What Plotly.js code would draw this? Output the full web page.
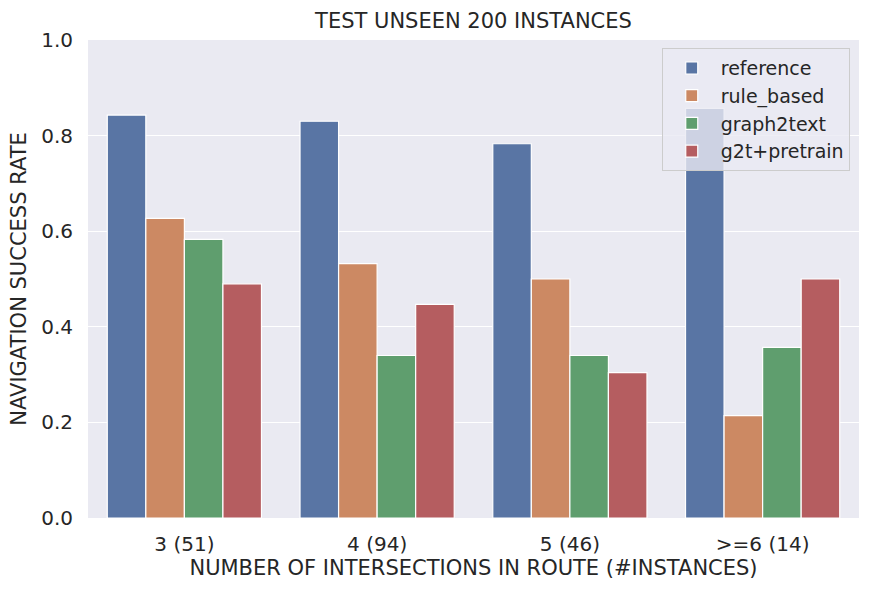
<!DOCTYPE html>
<html>
<head>
<meta charset="utf-8">
<script src="https://cdn.plot.ly/plotly-3.0.1.min.js"></script>
<style>
html,body{margin:0;padding:0;background:#fff}
#chart{width:873px;height:594px}
</style>
</head>
<body>
<div id="chart"></div>
<script>
let categories = ["3 (51)", "4 (94)", "5 (46)", ">=6 (14)"]

let reference = [0.843, 0.830, 0.783, 0.857]
let rule_based = [0.627, 0.532, 0.500, 0.214]
let graph2text = [0.583, 0.340, 0.340, 0.357]
let g2t_pretrain = [0.490, 0.447, 0.304, 0.500]

let seriesNames = ["reference", "rule_based", "graph2text", "g2t+pretrain"]
let seriesValues = [reference, rule_based, graph2text, g2t_pretrain]
let colors = ["#5975a4", "#cc8963", "#5f9e6e", "#b55d60"]

let font = "DejaVu Sans, sans-serif"

let traces = seriesNames.map((name, i) => ({
  type: "bar",
  name: name,
  x: categories,
  y: seriesValues[i],
  marker: {color: colors[i], line: {color: "#ffffff", width: 1.2}}
}))

let layout = {
  width: 873,
  height: 594,
  margin: {l: 87.5, r: 13.7, t: 40, b: 75.7},
  paper_bgcolor: "#ffffff",
  plot_bgcolor: "#eaeaf2",
  barmode: "group",
  bargap: 0.2,
  bargroupgap: 0,
  font: {family: font, color: "#262626", size: 20},
  title: {
    text: "TEST UNSEEN 200 INSTANCES",
    font: {family: font, size: 21, color: "#262626"},
    x: 0.5, xref: "paper", xanchor: "center",
    y: 0.965, yanchor: "middle"
  },
  xaxis: {
    title: {text: "NUMBER OF INTERSECTIONS IN ROUTE (#INSTANCES)", font: {size: 21}, standoff: 4},
    showgrid: false,
    zeroline: false,
    showline: false,
    ticks: "outside",
    ticklen: 8,
    tickcolor: "rgba(0,0,0,0)",
    tickfont: {size: 20}
  },
  yaxis: {
    title: {text: "NAVIGATION SUCCESS RATE", font: {size: 21}, standoff: 8},
    range: [0, 1],
    dtick: 0.2,
    tickformat: ".1f",
    showgrid: true,
    gridcolor: "#ffffff",
    gridwidth: 1.3,
    zeroline: false,
    showline: false,
    ticks: "outside",
    ticklen: 10,
    tickcolor: "rgba(0,0,0,0)",
    tickfont: {size: 20}
  },
  legend: {
    x: 0.988, y: 0.983,
    xanchor: "right", yanchor: "top",
    bgcolor: "rgba(234,234,242,0.8)",
    bordercolor: "#cccccc",
    borderwidth: 1,
    font: {size: 19},
    itemwidth: 48
  },
  showlegend: true
}

Plotly.newPlot("chart", traces, layout, {displayModeBar: false, staticPlot: true})
</script>
</body>
</html>
